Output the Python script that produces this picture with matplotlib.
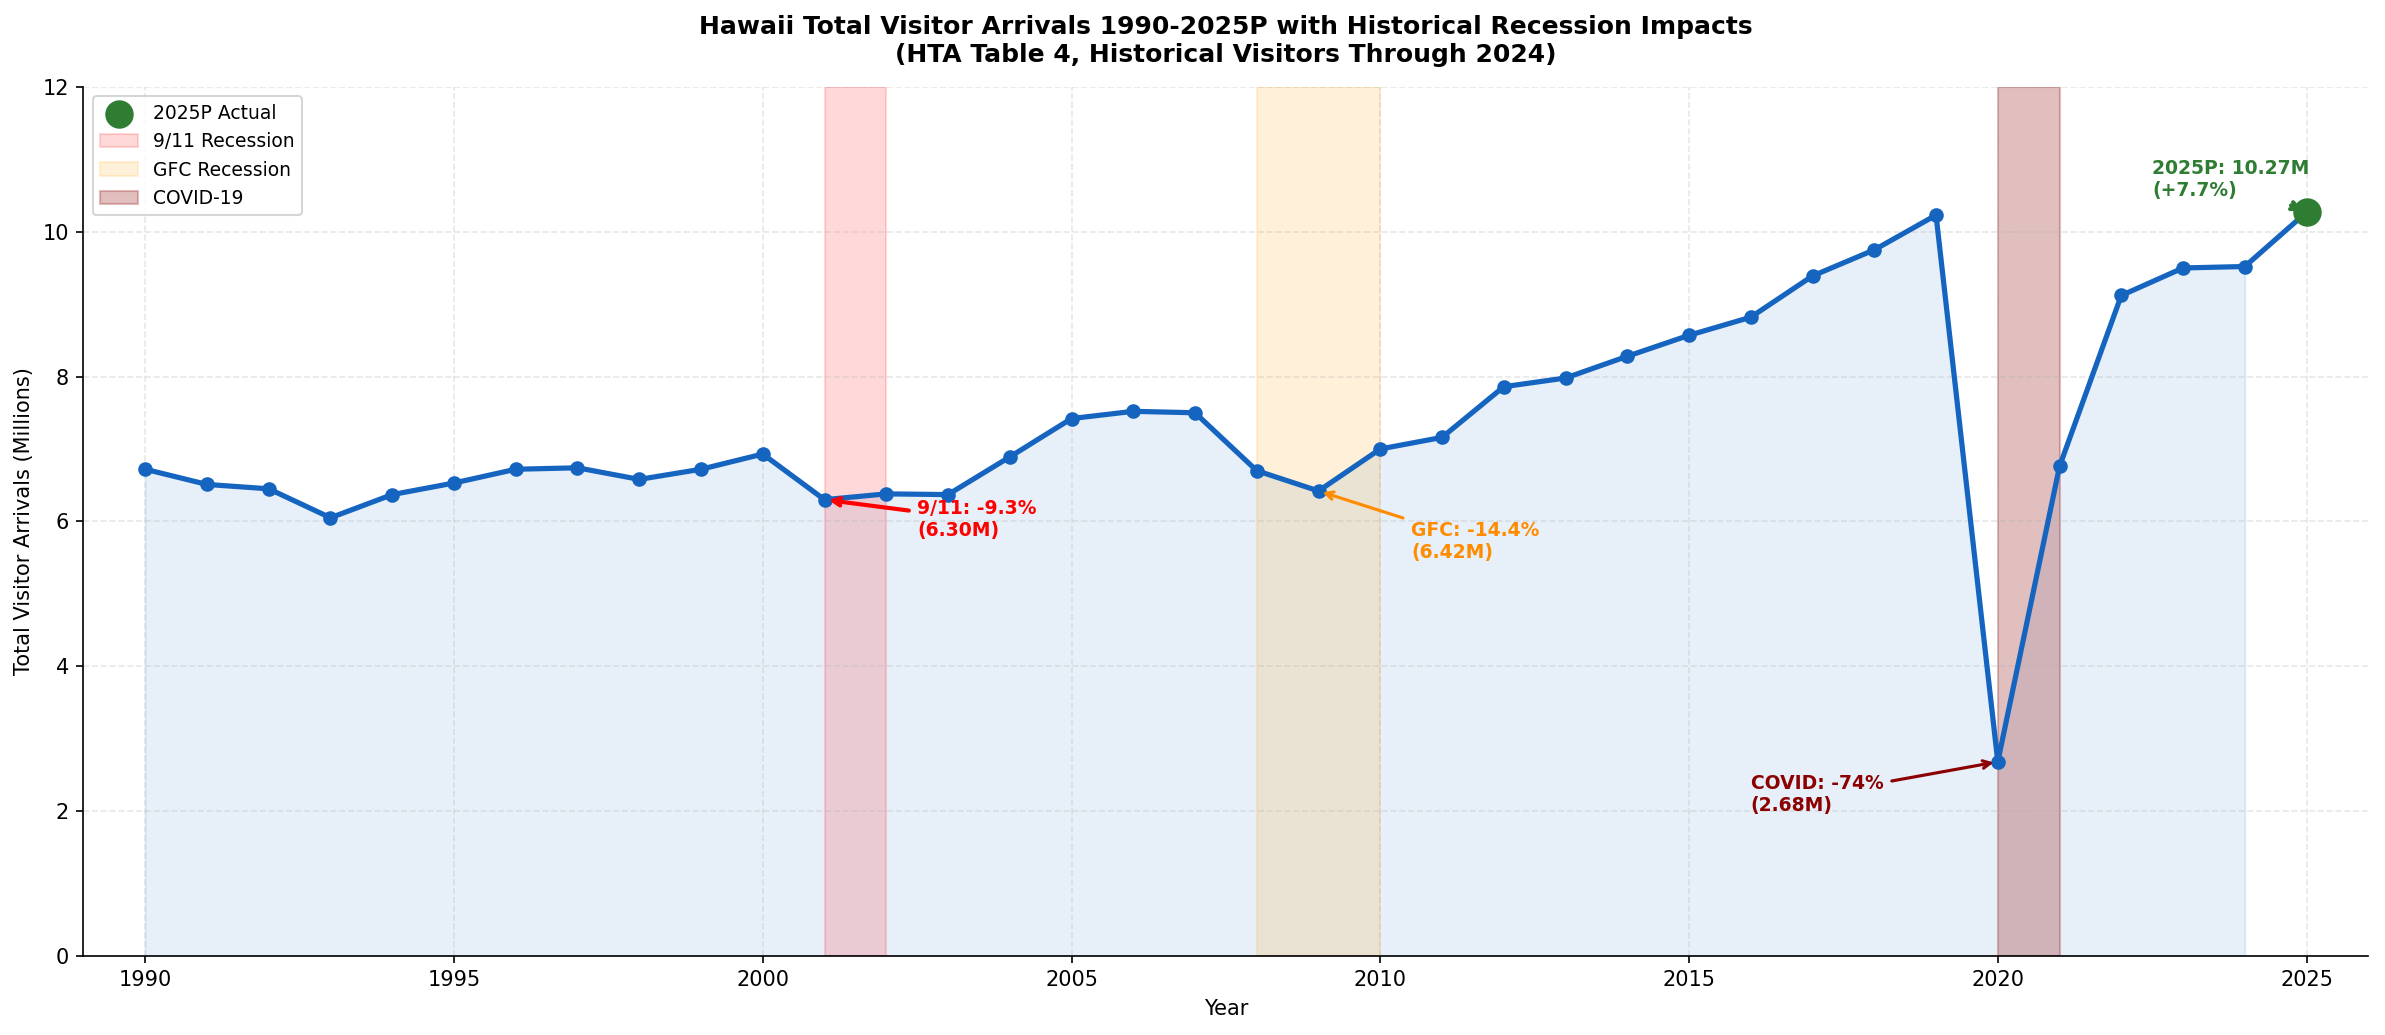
import matplotlib
matplotlib.use("Agg")
import matplotlib.pyplot as plt

years = list(range(1990, 2025))
visitors = [6.72, 6.51, 6.45, 6.05, 6.37, 6.53, 6.72, 6.74, 6.58, 6.72,
            6.93, 6.30, 6.38, 6.37, 6.89, 7.42, 7.52, 7.50, 6.70, 6.42,
            7.00, 7.16, 7.86, 7.98, 8.28, 8.57, 8.82, 9.39, 9.75, 10.23,
            2.68, 6.76, 9.12, 9.50, 9.52]
proj_year = 2025
proj_value = 10.27

fig = plt.figure(figsize=(15.9, 6.9), dpi=150)
ax = fig.add_axes([0.035, 0.0765, 0.958, 0.8395])

ax.fill_between(years, visitors, 0, color="#1565C0", alpha=0.1)
ax.plot(years + [proj_year], visitors + [proj_value], color="#1565C0", lw=2.5,
        marker="o", markersize=6, zorder=3)
ax.scatter([proj_year], [proj_value], s=160, color="#2E7D32", zorder=5, label="2025P Actual")

ax.axvspan(2001, 2002, color="red", alpha=0.15, label="9/11 Recession")
ax.axvspan(2008, 2010, color="orange", alpha=0.15, label="GFC Recession")
ax.axvspan(2020, 2021, color="darkred", alpha=0.25, label="COVID-19")

ax.annotate("9/11: -9.3%\n(6.30M)", xy=(2001, 6.30), xytext=(2002.5, 5.8),
            color="red", fontsize=9, fontweight="bold",
            arrowprops=dict(arrowstyle="->", color="red", lw=2))
ax.annotate("GFC: -14.4%\n(6.42M)", xy=(2009, 6.42), xytext=(2010.5, 5.5),
            color="darkorange", fontsize=9, fontweight="bold",
            arrowprops=dict(arrowstyle="->", color="darkorange", lw=1.5))
ax.annotate("COVID: -74%\n(2.68M)", xy=(2020, 2.68), xytext=(2016, 2.0),
            color="darkred", fontsize=9, fontweight="bold",
            arrowprops=dict(arrowstyle="->", color="darkred", lw=1.5))
ax.annotate("2025P: 10.27M\n(+7.7%)", xy=(proj_year, proj_value), xytext=(2022.5, 10.5),
            color="#2E7D32", fontsize=9, fontweight="bold",
            arrowprops=dict(arrowstyle="->", color="#2E7D32", lw=2))

ax.set_xlim(1989, 2026)
ax.set_ylim(0, 12)
ax.set_xlabel("Year", fontsize=10)
ax.set_ylabel("Total Visitor Arrivals (Millions)", fontsize=10)
ax.set_title("Hawaii Total Visitor Arrivals 1990-2025P with Historical Recession Impacts\n"
             "(HTA Table 4, Historical Visitors Through 2024)",
             fontsize=12, fontweight="bold", pad=12)
ax.tick_params(labelsize=10)
ax.grid(True, linestyle="--", alpha=0.3)
ax.spines["top"].set_visible(False)
ax.spines["right"].set_visible(False)
ax.legend(loc="upper left", fontsize=9)

fig.savefig("out.png", dpi=150)
